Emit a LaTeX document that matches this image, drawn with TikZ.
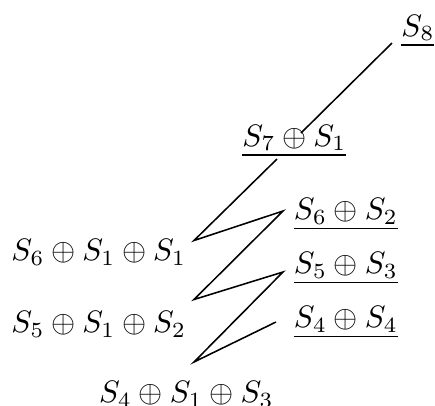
\documentclass[tikz,border=0pt]{standalone}
\begin{document}
\begin{tikzpicture}[x=0.3226pt,y=-0.3226pt,
  lbl/.style={anchor=base west,inner sep=0pt,outer sep=0pt},
  conn/.style={line width=0.5pt}]
\useasboundingbox (0,0) rectangle (435,405);
% labels
\node[lbl] (s8)   at (401.5,36)   {$\underline{S_8}$};
\node[lbl] (s71)  at (242.5,146)  {$\underline{S_7\oplus S_1}$};
\node[lbl] (s62)  at (294,219.5)  {$\underline{S_6\oplus S_2}$};
\node[lbl] (s53)  at (294,273.5)  {$\underline{S_5\oplus S_3}$};
\node[lbl] (s44)  at (294,327.5)  {$\underline{S_4\oplus S_4}$};
\node[lbl] (s611) at (11.5,260.5) {$S_6\oplus S_1\oplus S_1$};
\node[lbl] (s512) at (11.5,332.5) {$S_5\oplus S_1\oplus S_2$};
\node[lbl] (s413) at (99,402.5)   {$S_4\oplus S_1\oplus S_3$};
% connector vertices
\coordinate (a1) at (392,43);
\coordinate (a2) at (301,133);
\coordinate (b0) at (277,159);
\coordinate (b1) at (194,240.5);
\coordinate (b2) at (283,211);
\coordinate (b3) at (194,299.5);
\coordinate (b4) at (283,272);
\coordinate (b5) at (194,362);
\coordinate (b6) at (276,322);
\draw[conn] (a1) -- (a2);
\draw[conn] (b0) -- (b1) -- (b2) -- (b3) -- (b4) -- (b5) -- (b6);
\end{tikzpicture}
\end{document}
